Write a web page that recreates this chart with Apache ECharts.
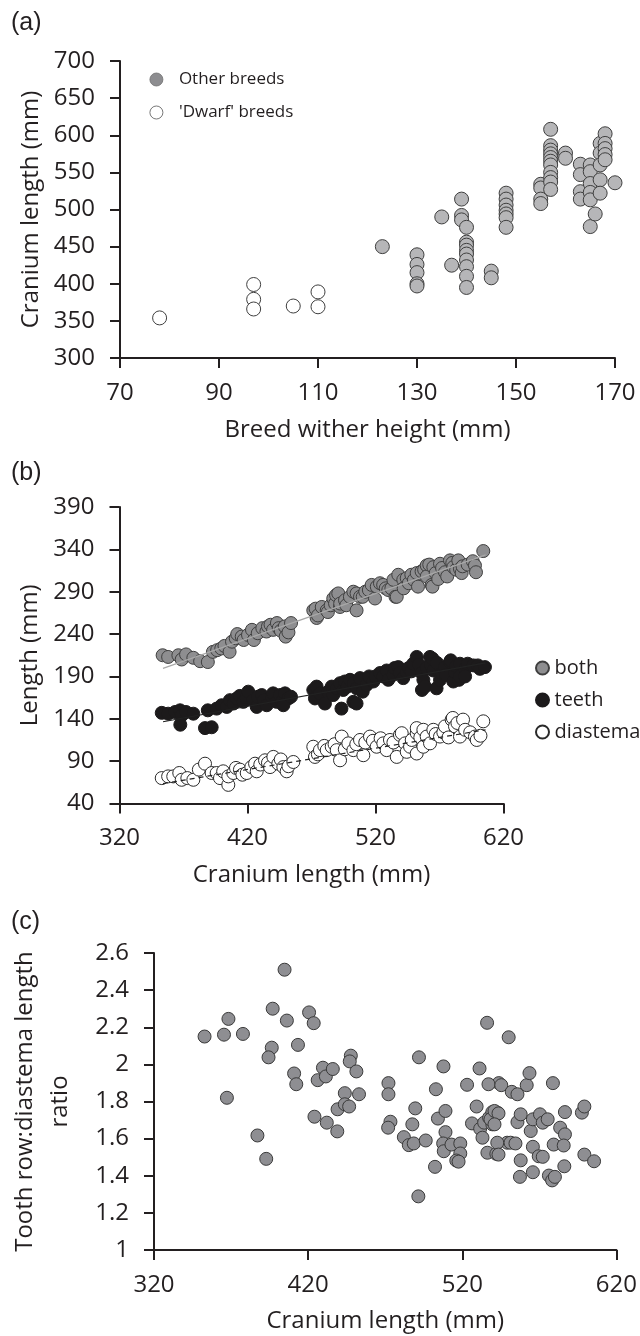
<!DOCTYPE html>
<html>
<head>
<meta charset="utf-8">
<script src="https://cdn.jsdelivr.net/npm/echarts/dist/echarts.min.js"></script>
<style>
  html, body { margin: 0; padding: 0; background: #ffffff; }
  #chart { width: 640px; height: 1336px; }
</style>
</head>
<body>
<div id="chart"></div>
<script>
// ---------- Panel (a): breed wither height vs cranium length ----------
const aOtherBreeds = [
  [123,450],
  [130,439],[130,426],[130,415],[130,400],[130,397],
  [135,490],[137,425],
  [139,514],[139,492],[139,486],
  [140,476],[140,456],[140,452],[140,445],[140,440],[140,432],[140,423],[140,410],[140,395],
  [145,417],[145,408],
  [148,522],[148,514],[148,506],[148,499],[148,494],[148,489],[148,476],
  [155,534],[155,529],[155,514],[155,508],
  [157,608],[157,586],[157,580],[157,575],[157,570],[157,565],[157,560],[157,550],[157,543],[157,537],[157,527],
  [160,576],[160,569],
  [163,561],[163,547],[163,524],[163,514],
  [165,560],[165,551],[165,535],[165,523],[165,513],[165,477],
  [166,494],[167,589],[167,576],[167,560],[167,540],[167,522],
  [168,602],[168,589],[168,582],[168,574],[168,567],
  [170,536]
];
const aDwarfBreeds = [
  [78,354],[97,399],[97,379],[97,366],[105,370],[110,389],[110,369]
];
const aXTicks = { min: 70, max: 170, interval: 20 };
const aYTicks = { min: 300, max: 700, interval: 50 };

// ---------- Panel (b): cranium length vs lengths ----------
const bBoth = [
  [353.7,215],[358,213],[366,215],[368.6,210],[372,216],[377.7,212],[383,208],[389,207],[393,219],
  [396.3,221],[399.5,223],[402,226],[406,219],[407.9,231],[410.8,235],[412,240],[415.5,237],
  [417,233],[420.4,239],[423.5,245],[425,233],[428,241],[431.6,247],[434.8,243],[436,249],
  [438,251],[440,245],[443,253],[444.4,247],[446,244],[449.1,249],[449.8,237],[452,242],[454,253],
  [471.4,268],[473.2,270],[474,259],[475,262],[478,272],[481.9,268],[482.8,266],[485,274],
  [487,282],[488.4,276],[489.2,286],[490.9,288],[492.3,272],[492.4,276],[496.2,280],[497.2,274],
  [500,284],[502.7,290],[505.2,288],[505.2,268],[507.9,284],[510,284],[512,290],[514.8,292],
  [517,298],[519.6,282],[521,296],[523.5,300],[526,298],[528,294],[530,292],[532.4,294],
  [534,304],[535.6,284],[536.6,284],[537.8,310],[541.7,304],[542,294],[544.4,306],[546,300],
  [548,310],[550,304],[552.2,312],[553.2,296],[556,314],[558,316],[560,321],[560,308],[562,322],
  [563.9,298],[564.5,296],[565.2,319],[567,312],[569,305],[570.4,323],[572,318],[574.3,313],
  [576,308],[578.2,327],[580,324],[580.8,319],[583,316],[584.7,327],[586,317],[587.3,312],
  [588,320],[592,322],[596,326],[597.7,321],[598.5,313],[604.2,338]
];
const bTeeth = [
  [353,147],[358,146],[363.4,148],[367.3,150],[368.6,144],[367.5,133],[372,148],[377.7,146],
  [386.8,129],[389,150],[392,130],[395.9,152],[399.8,156],[403.8,154],[406.3,162],[409,158],
  [411.6,164],[414,167],[416.7,160],[419,165],[420.6,172],[424.5,162],[427.2,154],[428,166],
  [431.1,168],[433,162],[435,156],[438.9,166],[440,170],[442.8,160],[445.4,168],[447,160],
  [449.3,170],[451.9,164],[448,156],[454,166],
  [471.4,174],[472.7,164],[474,178],[476.6,170],[480.5,158],[483,172],[485.8,178],[487,168],
  [490,176],[492.3,182],[493.4,152],[494.8,174],[496,184],[498,178],[500.1,186],[502.7,160],
  [503,182],[505.2,158],[505.3,176],[507.9,188],[510,172],[513.1,180],[515,190],[518.3,184],
  [520,190],[523.5,194],[526,190],[528.7,197],[530,186],[533.9,192],[535,200],[537.8,201],
  [539,194],[541.7,188],[544.4,195],[546,200],[548,196],[549.5,205],[552.2,213],[554,204],
  [556.1,194],[556.3,174],[557.4,186],[558.7,178],[560,200],[562.6,213],[563,204],[564.5,211],
  [565.2,197],[567.7,176],[568,206],[570.4,186],[572,194],[574.3,201],[575,192],[578.2,207],
  [578.8,209],[580.8,184],[582.1,195],[583,202],[585.2,186],[586,205],[586,190],[590,199],
  [590,190],[592,205],[596.4,203],[600,203],[601.6,199],[605.5,201]
];
const bDiastema = [
  [353,70],[358,72],[362,72],[366.7,76],[368.6,68],[373,70],[377.7,68],[382,80],[386.8,87],
  [392,76],[395.9,76],[398.5,70],[401,78],[405,62],[405,72],[408.9,76],[411,82],[414.1,80],
  [416,74],[419.4,76],[423,83],[425.9,87],[427.2,78],[430,86],[433.7,91],[436,88],[437.6,83],
  [440.2,95],[444.1,87],[446,92],[448,83],[450.6,78],[452,84],[455.8,89],
  [471.4,107],[472.7,95],[475,98],[476.6,103],[480,108],[481.9,103],[485.8,107],[488,110],
  [489.7,103],[492.3,91],[493.6,119],[496,104],[498.8,111],[502.7,103],[505,110],[507.9,115],
  [510.5,97],[512,112],[515.7,119],[518,114],[520.9,107],[524,117],[526.1,111],[528.7,103],
  [531.3,115],[534,112],[536.6,95],[539.1,121],[540.5,123],[543.1,111],[544.4,101],[547,107],
  [548.3,115],[552.2,123],[552.2,129],[552.2,99],[555,118],[557.4,107],[557.4,127],[560,119],
  [562.6,111],[565.2,127],[567,122],[570.4,119],[573,124],[574.3,131],[577,118],[579.5,139],
  [580.4,141],[582.1,131],[584,135],[586,119],[588.4,139],[590,127],[594,124],[597.7,119],
  [599.1,115],[602,120],[604.2,137]
];
const bBothFit = [[354,199.5],[606,333.5]];
const bTeethFit = [[354,136.5],[606,206]];
const bDiastemaFit = [[354,63.5],[606,127]];
const bXTicks = { min: 320, max: 620, interval: 100 };
const bYTicks = { min: 40, max: 390, interval: 50 };

// ---------- Panel (c): cranium length vs tooth row:diastema ratio ----------
const cRatio = [
  [352.8,2.15],[365.4,2.16],[368.3,2.245],[377.7,2.164],[367.3,1.82],[397,2.30],[404.7,2.51],
  [406.2,2.236],[420.6,2.28],[423.6,2.222],[396.4,2.09],[394.3,2.038],[413.4,2.105],
  [410.9,1.951],[412.3,1.893],[426.2,1.915],[429.6,1.982],[431.5,1.935],[436,1.975],
  [447.7,2.047],[447,2.016],[451.3,1.962],[443.8,1.845],[453,1.839],[472.1,1.899],
  [472.1,1.839],[491.9,2.038],[502.9,1.866],[507.8,1.989],[523.1,1.89],[531.2,1.978],
  [536.1,2.224],[543.7,1.899],[550.1,2.146],[387.1,1.617],[392.8,1.491],[424.1,1.718],
  [432.1,1.686],[438.9,1.639],[439.1,1.758],[443.8,1.785],[446.6,1.773],[489.5,1.763],
  [504.2,1.708],[509.1,1.749],[487.6,1.677],[473.4,1.691],[471.9,1.659],[482.1,1.608],
  [485.3,1.565],[488.5,1.574],[496.3,1.59],[509.1,1.635],[507.6,1.574],[508,1.532],
  [513,1.568],[518.7,1.574],[518.7,1.52],[516.1,1.482],[517.6,1.476],[502.3,1.448],
  [491.5,1.289],[529.3,1.773],[526.3,1.682],[531.6,1.653],[534.2,1.686],[537.4,1.713],
  [539.5,1.743],[542.7,1.74],[539.5,1.677],[533.1,1.605],[536.3,1.524],[542.1,1.518],
  [549.1,1.578],[537,1.893],[545.3,1.888],[552.1,1.852],[555.8,1.839],[561.8,1.888],
  [563.6,1.953],[578.8,1.899],[538.3,1.704],[540.9,1.749],[543.5,1.736],[540.9,1.677],
  [542.7,1.578],[543.5,1.514],[551.3,1.578],[554.5,1.574],[555.8,1.689],[557.9,1.731],
  [557.9,1.483],[557.4,1.394],[564.4,1.641],[565.8,1.704],[570.4,1.731],[572.2,1.686],
  [575.4,1.704],[565.8,1.556],[569.6,1.505],[572.2,1.502],[565.8,1.419],[576.2,1.401],
  [578.3,1.375],[580.1,1.394],[579.3,1.568],[583.5,1.659],[586.6,1.623],[585.8,1.563],
  [586.6,1.743],[586.2,1.451],[597.6,1.74],[599.2,1.773],[599.2,1.514],[605.5,1.478]
];
const cXTicks = { min: 320, max: 620, interval: 100 };
const cYTicks = { min: 1, max: 2.6, interval: 0.2 };

// ---------- styling ----------
const INK = '#231f20';
const FONT = 'Open Sans';

function xAxis(gridIndex, t, name, nameGap) {
  return {
    type: 'value', gridIndex, min: t.min, max: t.max, interval: t.interval,
    name, nameLocation: 'middle', nameGap,
    nameTextStyle: { fontFamily: FONT, fontSize: 24, color: INK },
    axisLine: { show: true, onZero: false, lineStyle: { color: INK, width: 2 } },
    axisTick: { show: true, length: 10, lineStyle: { color: INK, width: 2 } },
    axisLabel: { fontFamily: FONT, fontSize: 24, color: INK, margin: 23 },
    splitLine: { show: false }
  };
}
function yAxis(gridIndex, t, name, nameGap, extraName) {
  return {
    type: 'value', gridIndex, min: t.min, max: t.max, interval: t.interval,
    name, nameLocation: 'middle', nameGap, nameRotate: 90,
    nameTextStyle: Object.assign({ fontFamily: FONT, fontSize: 24, color: INK }, extraName || {}),
    axisLine: { show: true, onZero: false, lineStyle: { color: INK, width: 2 } },
    axisTick: { show: true, length: 10, lineStyle: { color: INK, width: 2 } },
    axisLabel: { fontFamily: FONT, fontSize: 24, color: INK, margin: 25 },
    splitLine: { show: false }
  };
}

const chart = echarts.init(document.getElementById('chart'), null, { renderer: 'canvas' });

const panelTitle = { fontFamily: 'Liberation Sans', fontSize: 25, fontWeight: 'normal', color: INK };

const option = {
  backgroundColor: '#ffffff',
  animation: false,
  title: [
    { text: '(a)', left: 6, top: 6, textStyle: panelTitle },
    { text: '(b)', left: 6, top: 456, textStyle: panelTitle },
    { text: '(c)', left: 6, top: 905, textStyle: panelTitle }
  ],
  legend: [
    {
      orient: 'vertical', left: 144.5, top: 66, itemWidth: 35, itemHeight: 13, itemGap: 16,
      icon: 'circle',
      textStyle: { fontFamily: FONT, fontSize: 17, color: INK },
      data: [
        { name: 'Other breeds', itemStyle: { color: '#8d8d90', borderColor: '#707070', borderWidth: 0.8 } },
        { name: "'Dwarf' breeds", itemStyle: { color: '#ffffff', borderColor: '#555555', borderWidth: 0.8 } }
      ]
    },
    {
      orient: 'vertical', left: 530, top: 653, itemWidth: 14, itemHeight: 13, itemGap: 12,
      icon: 'circle',
      textStyle: { fontFamily: FONT, fontSize: 20, color: INK },
      data: ['both', 'teeth', 'diastema']
    }
  ],
  grid: [
    { left: 120, top: 61, width: 495, height: 297 },
    { left: 119.5, top: 507, width: 384, height: 296.5 },
    { left: 147.5, top: 953, width: 470.5, height: 297 }
  ],
  xAxis: [
    xAxis(0, aXTicks, 'Breed wither height (mm)', 60),
    xAxis(1, bXTicks, 'Cranium length (mm)', 60),
    xAxis(2, cXTicks, 'Cranium length (mm)', 59)
  ],
  yAxis: [
    yAxis(0, aYTicks, 'Cranium length (mm)', 76),
    yAxis(1, bYTicks, 'Length (mm)', 74),
    yAxis(2, cYTicks, 'Tooth row:diastema length\nratio', 76, { lineHeight: 35 })
  ],
  series: [
    {
      name: 'Other breeds', type: 'scatter', xAxisIndex: 0, yAxisIndex: 0,
      data: aOtherBreeds, symbolSize: 14,
      itemStyle: { color: '#b6b6b8', borderColor: '#3f3f3f', borderWidth: 1, opacity: 1 }
    },
    {
      name: "'Dwarf' breeds", type: 'scatter', xAxisIndex: 0, yAxisIndex: 0,
      data: aDwarfBreeds, symbolSize: 14,
      itemStyle: { color: '#ffffff', borderColor: '#3f3f3f', borderWidth: 1, opacity: 1 }
    },
    {
      name: 'both', type: 'scatter', xAxisIndex: 1, yAxisIndex: 1,
      data: bBoth, symbolSize: 13,
      itemStyle: { color: '#8e8e90', borderColor: '#3f3f3f', borderWidth: 1, opacity: 1 }
    },
    {
      name: 'teeth', type: 'scatter', xAxisIndex: 1, yAxisIndex: 1,
      data: bTeeth, symbolSize: 13,
      itemStyle: { color: '#1c1a1b', borderColor: '#1c1a1b', borderWidth: 1, opacity: 1 }
    },
    {
      name: 'diastema', type: 'scatter', xAxisIndex: 1, yAxisIndex: 1,
      data: bDiastema, symbolSize: 13,
      itemStyle: { color: '#ffffff', borderColor: '#2a2a2a', borderWidth: 1, opacity: 1 }
    },
    {
      name: 'bothFit', type: 'line', xAxisIndex: 1, yAxisIndex: 1, data: bBothFit,
      symbol: 'none', z: 5, lineStyle: { color: '#a8a8a8', width: 1.2 }
    },
    {
      name: 'teethFit', type: 'line', xAxisIndex: 1, yAxisIndex: 1, data: bTeethFit,
      symbol: 'none', z: 5, lineStyle: { color: '#222222', width: 1.2 }
    },
    {
      name: 'diastemaFit', type: 'line', xAxisIndex: 1, yAxisIndex: 1, data: bDiastemaFit,
      symbol: 'none', z: 5, lineStyle: { color: '#222222', width: 1.2, type: [5, 4] }
    },
    {
      name: 'ratio', type: 'scatter', xAxisIndex: 2, yAxisIndex: 2,
      data: cRatio, symbolSize: 13,
      itemStyle: { color: '#8e8e92', borderColor: '#3a3a3a', borderWidth: 1, opacity: 1 }
    }
  ]
};
chart.setOption(option);
</script>
</body>
</html>
